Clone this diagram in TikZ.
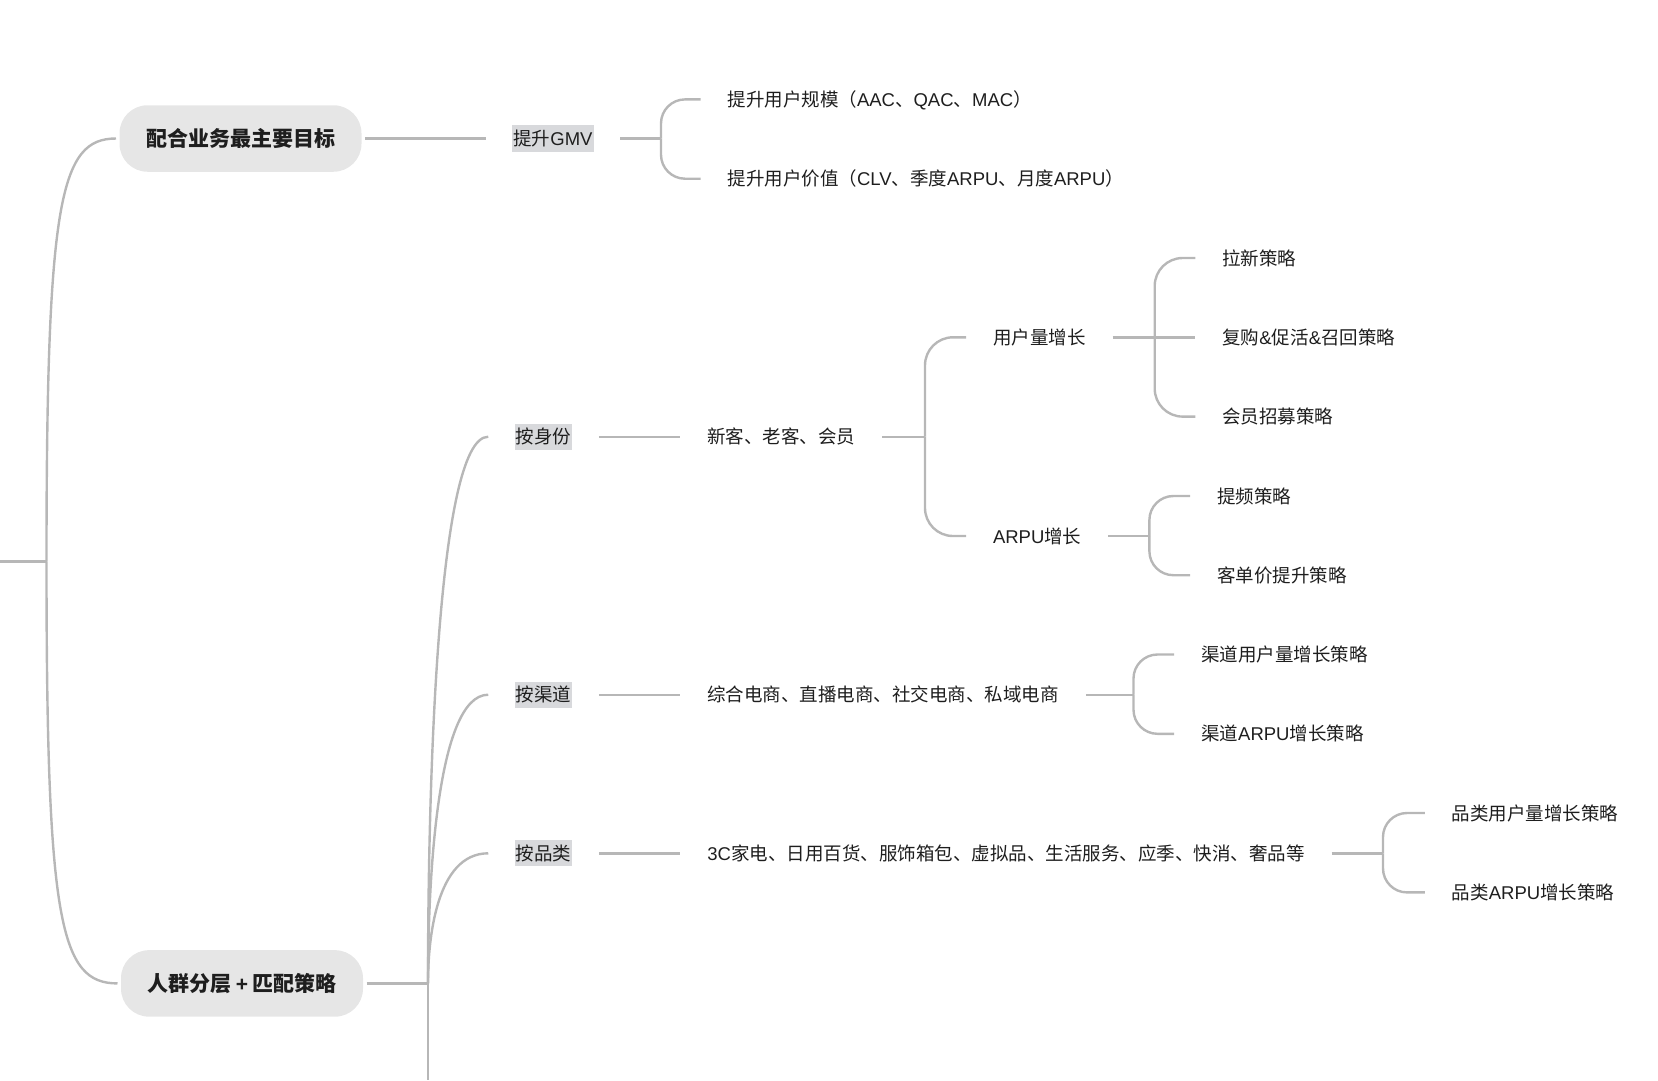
\documentclass[tikz,border=0pt]{standalone}
\usepackage{fontspec}
\setmainfont{Noto Sans CJK SC}
\newfontfamily\latin{Liberation Sans}
\usepackage{tikz}
\usetikzlibrary{positioning}
\definecolor{cline}{HTML}{B7B7B7}
\definecolor{cbox}{HTML}{E6E6E6}
\definecolor{cmark}{HTML}{D8D9DC}
\definecolor{ctext}{HTML}{1E1E1E}
\newcommand{\lt}[1]{{\latin #1}}

\begin{document}
\begin{tikzpicture}[x=1pt, y=-1pt,
  branch/.style={draw=cline, line width=2.4pt},
  fork/.style={branch, rounded corners=24pt},
  topic/.style={fill=cbox, rounded corners=28pt, text=ctext,
    font=\fontsize{21pt}{24pt}\selectfont\bfseries,
    inner xsep=25pt, inner ysep=24pt, minimum width=242pt,
    outer xsep=3.5pt, text height=17.2pt, text depth=1.3pt},
  tagbox/.style={fill=cmark, text=ctext, font=\fontsize{18.5pt}{22pt}\selectfont,
    inner xsep=1pt, inner ysep=5pt, outer xsep=26.5pt,
    text height=15.2pt, text depth=1.1pt},
  leaf/.style={anchor=west, text=ctext, font=\fontsize{18.5pt}{22pt}\selectfont,
    inner xsep=0pt, inner ysep=3pt, outer xsep=27pt,
    text height=15.2pt, text depth=1.1pt}]
  \useasboundingbox (0,0) rectangle (1658,1080);

  % main topics
  \node[topic] (goal) at (240.5,138.5) {配合业务最主要目标};
  \node[topic] (crowd) at (242,983.4) {人群分层 \lt{+} 匹配策略};
  \coordinate (rootend) at (0,561.5);
  \coordinate (jroot) at (46.5,561.5);
  \draw[branch] (rootend) -- (jroot);
  \draw[branch] (jroot) .. controls (46.5,200) and (60,138.5) .. (goal.west);
  \draw[branch] (jroot) .. controls (46.5,923) and (60,983.4) .. (crowd.west);

  % GMV
  \node[tagbox] (gmv) at (553,138.5) {提升\lt{GMV}};
  \node[leaf] (scale) at (700.5,99.4) {提升用户规模（\lt{AAC}、\lt{QAC}、\lt{MAC}）};
  \node[leaf] (value) at (700.5,178.7) {提升用户价值（\lt{CLV}、季度\lt{ARPU}、月度\lt{ARPU}）};
  \coordinate (jgmv) at (661,138.5);
  \draw[branch] (goal.east) -- (gmv.west);
  \draw[branch] (gmv.east) -- (jgmv);
  \draw[fork] (jgmv) |- (scale.west);
  \draw[fork] (jgmv) |- (value.west);

  % segments
  \coordinate (jcrowd) at (428,983.4);
  \coordinate (trunkend) at (428,1080);
  \node[tagbox] (ident) at (543.5,436.7) {按身份};
  \node[tagbox] (chan) at (543.5,694.7) {按渠道};
  \node[tagbox] (cat) at (543.5,853.3) {按品类};
  \draw[branch] (crowd.east) -- (jcrowd) -- (trunkend);
  \draw[branch] (jcrowd) .. controls (428,800) and (436,436.7) .. (ident.west);
  \draw[branch] (jcrowd) .. controls (428,886) and (436,694.7) .. (chan.west);
  \draw[branch] (jcrowd) .. controls (428,939.5) and (436,853.3) .. (cat.west);

  % by identity
  \node[leaf] (identtxt) at (680.4,436.7) {新客、老客、会员};
  \node[leaf] (users) at (966,337.3) {用户量增长};
  \node[leaf] (arpu) at (966,536) {\lt{ARPU}增长};
  \node[leaf] (newuser) at (1195.4,258) {拉新策略};
  \node[leaf] (repeat) at (1195.4,337.3) {复购\lt{\&}促活\lt{\&}召回策略};
  \node[leaf] (member) at (1195.4,416.6) {会员招募策略};
  \node[leaf] (freq) at (1190,496) {提频策略};
  \node[leaf] (aov) at (1190,575.2) {客单价提升策略};
  \coordinate (jident) at (925,436.7);
  \coordinate (jusers) at (1154.7,337.3);
  \coordinate (jarpu) at (1149.4,536);
  \draw[branch] (ident.east) -- (identtxt.west);
  \draw[branch] (identtxt.east) -- (jident);
  \draw[fork, rounded corners=28pt] (jident) |- (users.west);
  \draw[fork, rounded corners=28pt] (jident) |- (arpu.west);
  \draw[branch] (users.east) -- (repeat.west);
  \draw[fork, rounded corners=28pt] (jusers) |- (newuser.west);
  \draw[fork, rounded corners=28pt] (jusers) |- (member.west);
  \draw[branch] (arpu.east) -- (jarpu);
  \draw[fork] (jarpu) |- (freq.west);
  \draw[fork] (jarpu) |- (aov.west);

  % by channel
  \node[leaf] (chantxt) at (680.4,694.7) {综合电商、直播电商、社交电商、私域电商};
  \node[leaf] (chusers) at (1174.2,654.5) {渠道用户量增长策略};
  \node[leaf] (charpu) at (1174.2,733.8) {渠道\lt{ARPU}增长策略};
  \coordinate (jchan) at (1133.5,694.7);
  \draw[branch] (chan.east) -- (chantxt.west);
  \draw[branch] (chantxt.east) -- (jchan);
  \draw[fork] (jchan) |- (chusers.west);
  \draw[fork] (jchan) |- (charpu.west);

  % by category
  \node[leaf] (cattxt) at (680.4,853.3) {\lt{3C}家电、日用百货、服饰箱包、虚拟品、生活服务、应季、快消、奢品等};
  \node[leaf] (catusers) at (1424.8,813) {品类用户量增长策略};
  \node[leaf] (catarpu) at (1424.8,892.4) {品类\lt{ARPU}增长策略};
  \coordinate (jcat) at (1383,853.3);
  \draw[branch] (cat.east) -- (cattxt.west);
  \draw[branch] (cattxt.east) -- (jcat);
  \draw[fork] (jcat) |- (catusers.west);
  \draw[fork] (jcat) |- (catarpu.west);
\end{tikzpicture}
\end{document}
